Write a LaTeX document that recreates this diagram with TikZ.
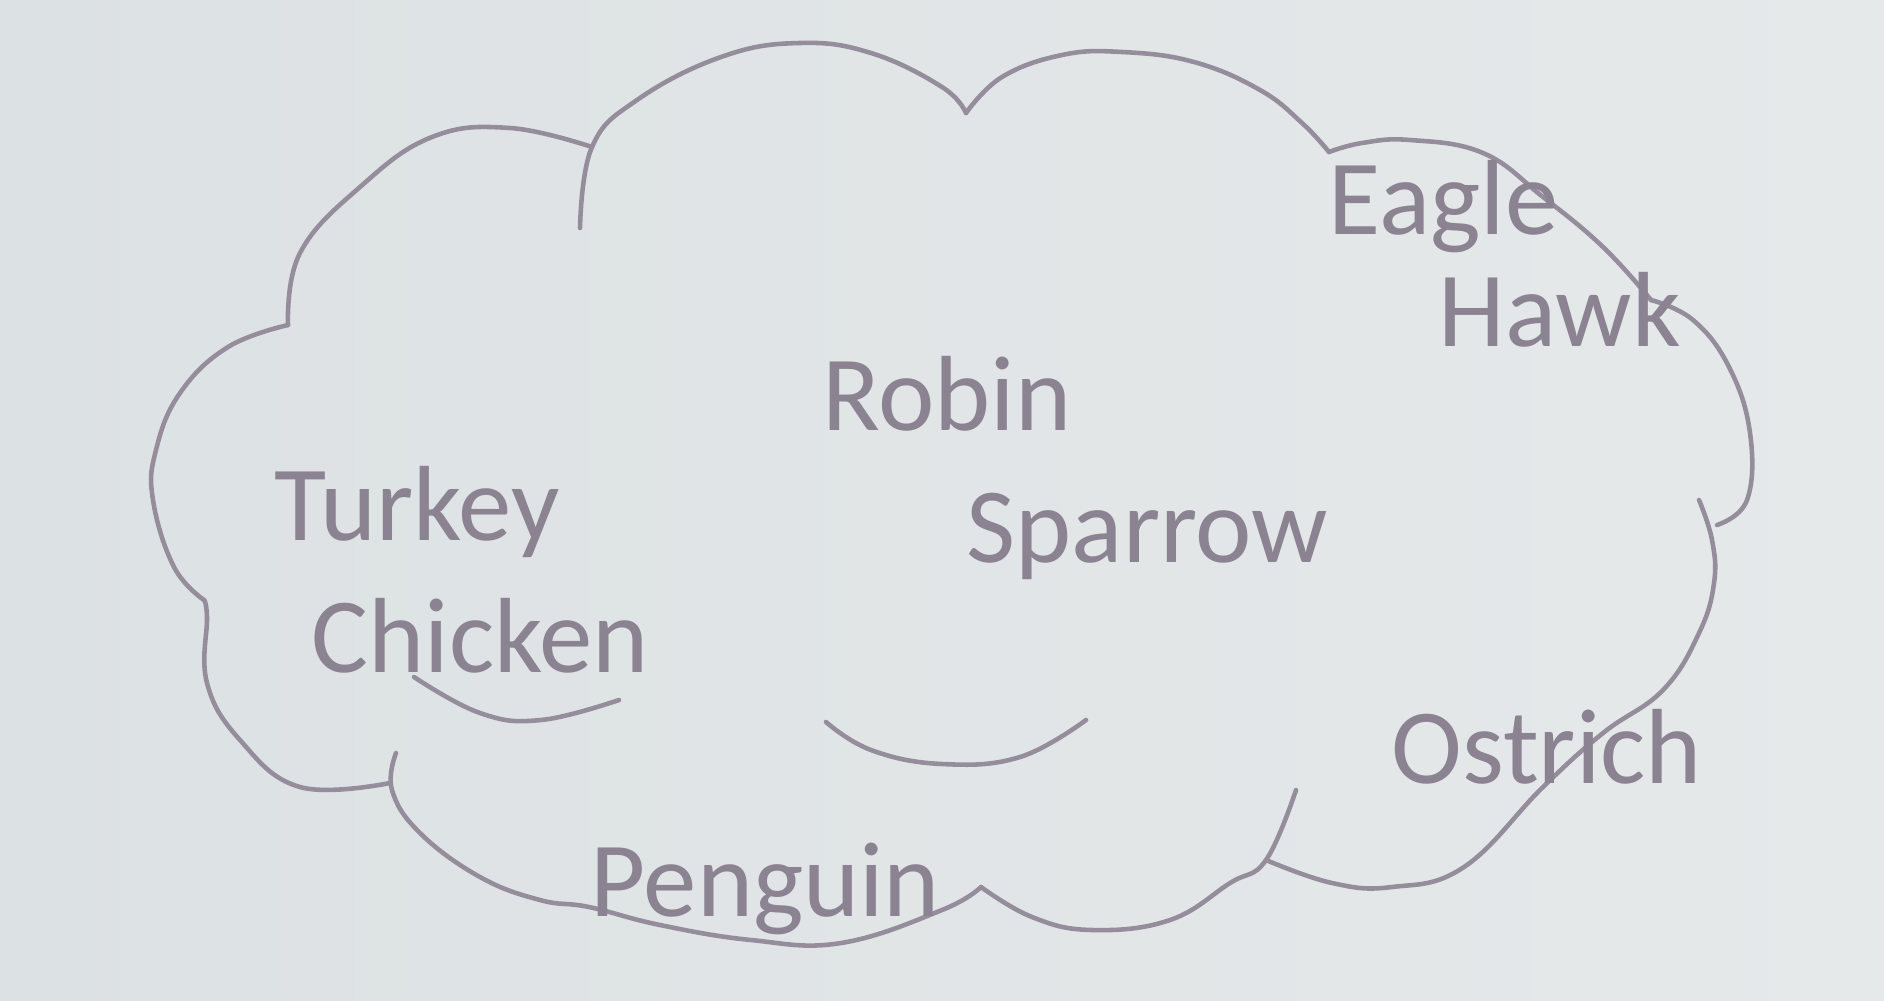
\documentclass[tikz,border=0pt]{standalone}
\usepackage{fontspec}
\setmainfont{Carlito}
\definecolor{cloudline}{HTML}{958D9C}
\definecolor{birdtext}{HTML}{8B8392}
\definecolor{paperleft}{HTML}{DCE1E3}
\definecolor{paperright}{HTML}{E6E9EA}
\begin{document}
\begin{tikzpicture}[x=0.1mm,y=-0.1mm,
    lobe/.style={draw=cloudline,line width=1.3pt,line cap=round,line join=round},
    bird/.style={text=birdtext,inner sep=0pt,anchor=base west,
        font=\fontsize{30.4}{36}\selectfont}]

    % the paper
    \shade[left color=paperleft,right color=paperright] (0,0) rectangle (1884,1000);
    \useasboundingbox (0,0) rectangle (1884,1000);

    % the cloud, lobe by lobe
    \draw[lobe] plot[smooth,tension=0.7] coordinates {(288,325) (300,253) (360,187) (432,137) (510,128) (592,147)};
    \draw[lobe] plot[smooth,tension=0.7] coordinates {(580,228) (592,147) (637,100) (721,57) (799,43) (871,53) (942,87) (966,113)};
    \draw[lobe] plot[smooth,tension=0.7] coordinates {(966,113) (1002,77) (1062,55) (1122,52) (1194,62) (1260,90) (1302,123) (1329,152)};
    \draw[lobe] plot[smooth,tension=0.7] coordinates {(1329,152) (1362,143) (1410,140) (1483,153) (1543,197) (1603,247) (1651,300)};
    \draw[lobe] plot[smooth,tension=0.7] coordinates {(1651,300) (1693,320) (1729,367) (1750,433) (1747,500) (1717,525)};
    \draw[lobe] plot[smooth,tension=0.7] coordinates {(1699,500) (1712,540) (1714,583) (1699,633) (1663,690) (1603,733) (1543,787) (1464,867) (1392,887) (1332,883) (1266,860)};
    \draw[lobe] plot[smooth,tension=0.7] coordinates {(1296,790) (1266,860) (1230,883) (1170,920) (1092,930) (1032,917) (981,887)};
    \draw[lobe] plot[smooth,tension=0.7] coordinates {(981,887) (942,910) (841,943) (751,940) (660,925) (589,907) (540,900) (480,877) (420,833) (392,790) (396,753)};
    \draw[lobe] plot[smooth,tension=0.7] coordinates {(204,600) (207,617) (207,683) (240,740) (300,787) (390,783)};
    \draw[lobe] plot[smooth,tension=0.7] coordinates {(288,325) (228,347) (180,393) (156,450) (153,500) (174,567) (204,600)};

    % the inner strokes
    \draw[lobe] plot[smooth,tension=0.7] coordinates {(414,677) (480,713) (541,720) (619,700)};
    \draw[lobe] plot[smooth,tension=0.7] coordinates {(826,722) (871,750) (942,764) (1020,757) (1086,720)};

    % the birds
    \node[bird] (robin) at (822,430) {Robin};
    \node[bird] (sparrow) at (966,562) {Sparrow};
    \node[bird] (turkey) at (274,540) {Turkey};
    \node[bird] (chicken) at (311,672) {Chicken};
    \node[bird] (eagle) at (1328,234) {Eagle};
    \node[bird] (hawk) at (1438,346) {Hawk};
    \node[bird] (ostrich) at (1391,783) {Ostrich};
    \node[bird] (penguin) at (590,916) {Penguin};
\end{tikzpicture}
\end{document}
